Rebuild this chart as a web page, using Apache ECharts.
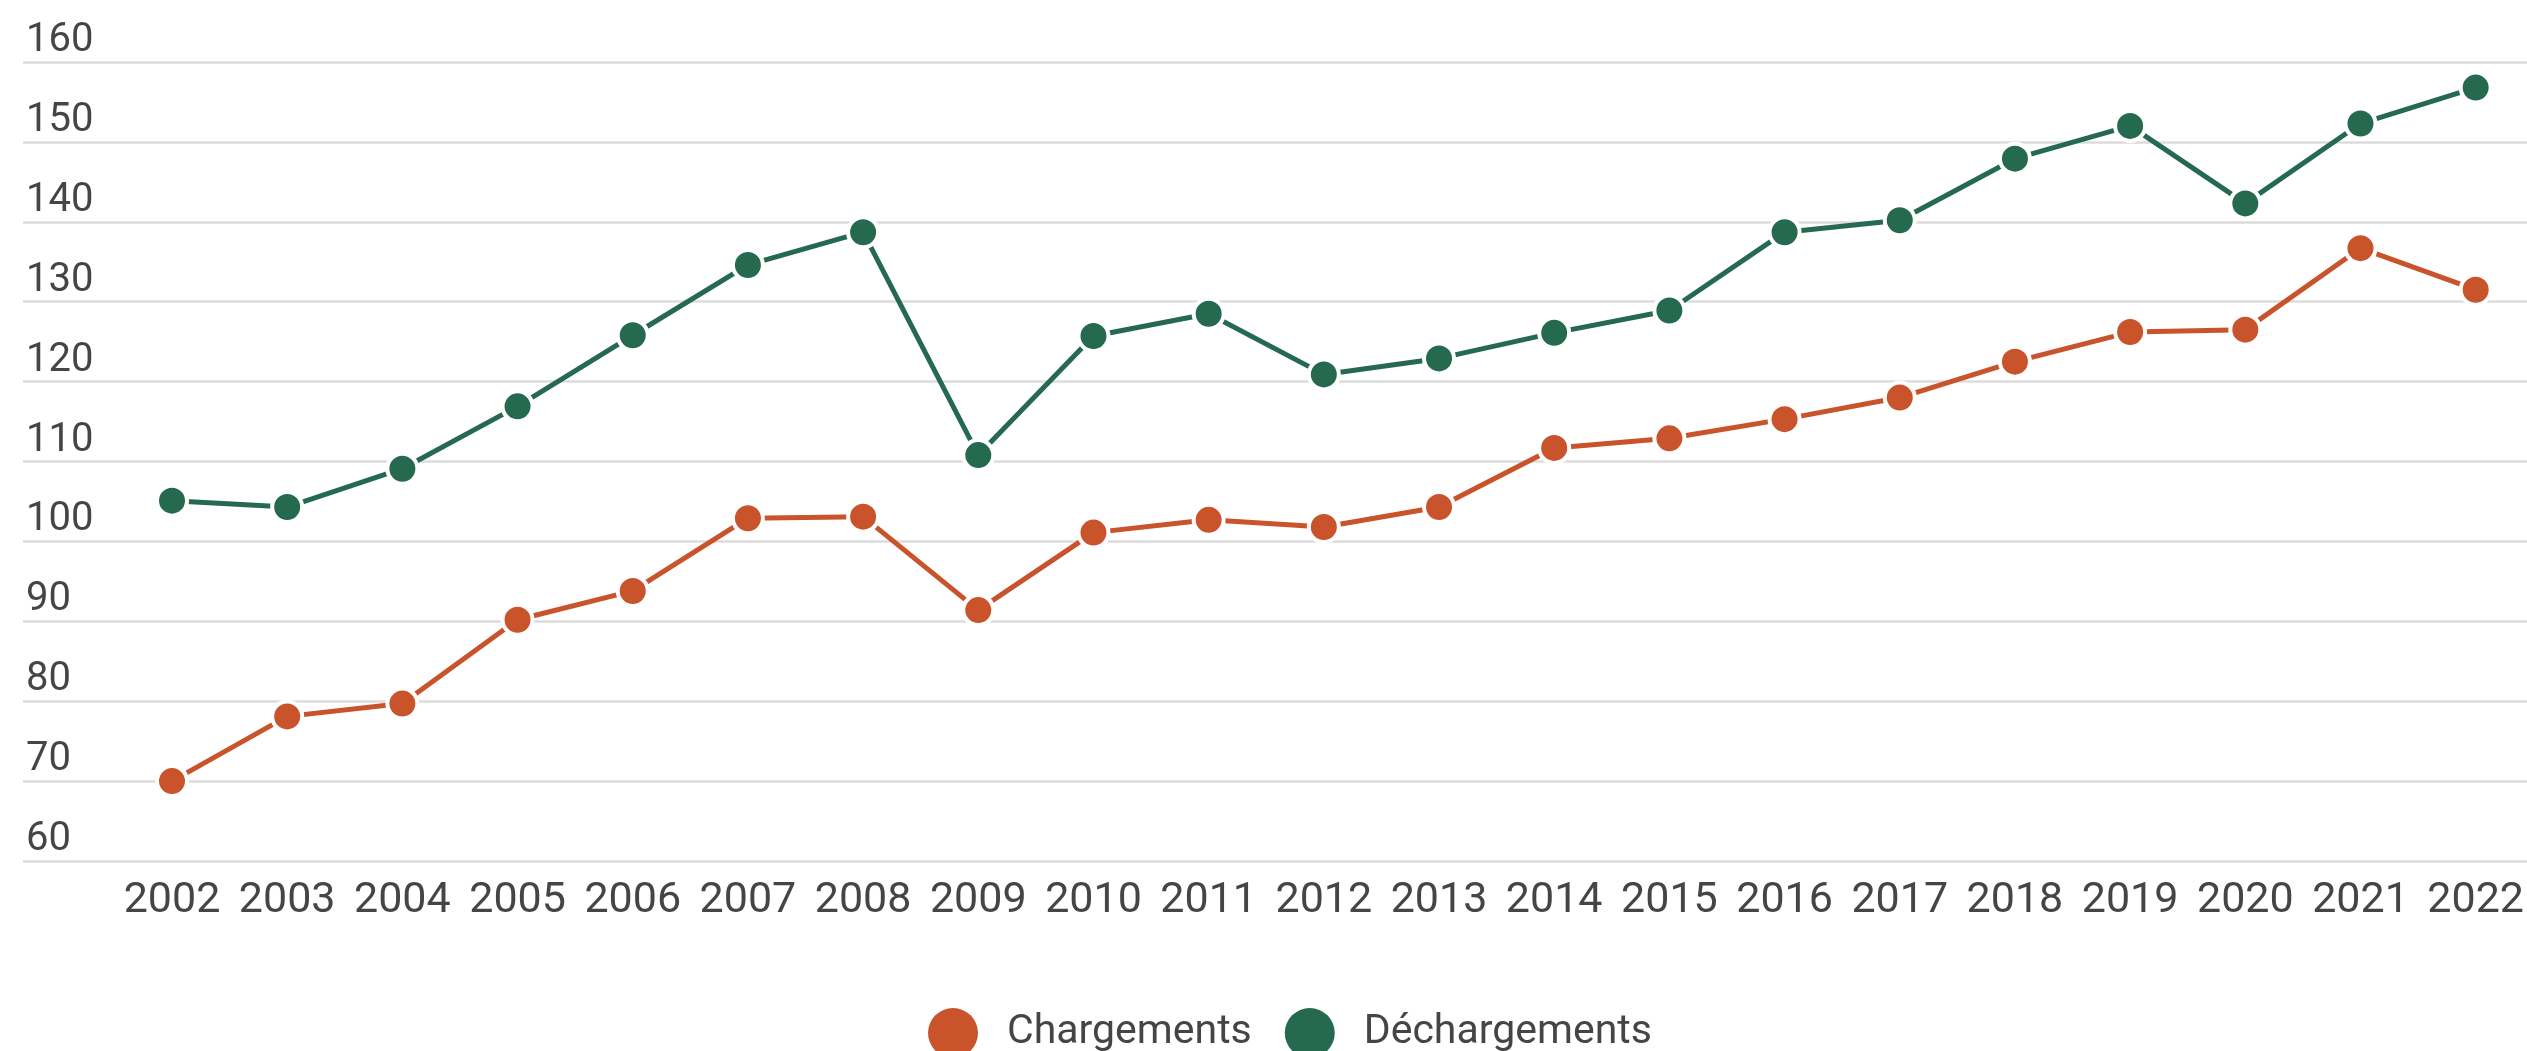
<!DOCTYPE html>
<html>
<head>
<meta charset="utf-8">
<title>Chargements et déchargements</title>
<script src="https://cdn.jsdelivr.net/npm/echarts@6/dist/echarts.min.js"></script>
<style>
  html, body { margin: 0; padding: 0; background: #ffffff; }
  #chart { width: 2527px; height: 1051px; }
</style>
</head>
<body>
<div id="chart"></div>
<script>
// Years on the horizontal axis
const years = ['2002','2003','2004','2005','2006','2007','2008','2009','2010','2011','2012',
               '2013','2014','2015','2016','2017','2018','2019','2020','2021','2022'];

// Chargements (loadings)
const chargements = [70.0, 78.1, 79.7, 90.2, 93.8, 102.9, 103.1, 91.4, 101.1, 102.7, 101.8,
                     104.3, 111.7, 112.9, 115.3, 118.0, 122.5, 126.2, 126.5, 136.7, 131.5];

// Déchargements (unloadings)
const dechargements = [105.1, 104.3, 109.1, 116.9, 125.8, 134.6, 138.7, 110.8, 125.7, 128.5, 120.9,
                       122.9, 126.1, 128.9, 138.7, 140.2, 147.9, 152.0, 142.3, 152.3, 156.8];

// Value axis bounds and step
const yMin = 60, yMax = 160, yStep = 10;

const ORANGE = '#c9532b';
const GREEN = '#256a4f';
const TEXT = '#454545';
const FONT = 'Roboto';

const chart = echarts.init(document.getElementById('chart'), null, { renderer: 'canvas' });

const lineSeries = (name, data, color) => ({
  name: name,
  type: 'line',
  xAxisIndex: 0,
  yAxisIndex: 0,
  data: data,
  symbol: 'circle',
  symbolSize: 30,
  showAllSymbol: true,
  lineStyle: { color: color, width: 5 },
  itemStyle: { color: color, borderColor: '#ffffff', borderWidth: 4 },
  z: 3,
  animation: false
});

chart.setOption({
  backgroundColor: '#ffffff',
  animation: false,
  grid: [
    // plot area for the two series
    { left: 172, right: 40, top: 62, bottom: 190 },
    // wider band carrying the horizontal gridlines and their labels
    { left: 23, right: 0, top: 62, bottom: 190 }
  ],
  xAxis: [
    {
      type: 'category',
      gridIndex: 0,
      data: years,
      boundaryGap: false,
      axisLine: { show: false },
      axisTick: { show: false },
      splitLine: { show: false },
      axisLabel: {
        interval: 0,
        margin: 19,
        fontFamily: FONT,
        fontSize: 43,
        color: TEXT
      }
    },
    {
      type: 'value',
      gridIndex: 1,
      show: false
    }
  ],
  yAxis: [
    {
      type: 'value',
      gridIndex: 0,
      min: yMin,
      max: yMax,
      interval: yStep,
      show: false,
      splitLine: { show: false }
    },
    {
      type: 'value',
      gridIndex: 1,
      min: yMin,
      max: yMax,
      interval: yStep,
      axisLine: { show: false },
      axisTick: { show: false },
      splitLine: { show: true, lineStyle: { color: '#dcdcdc', width: 2.5 } },
      axisLabel: {
        inside: true,
        margin: 3,
        align: 'left',
        verticalAlign: 'bottom',
        lineHeight: 40,
        padding: [0, 0, 1, 0],
        fontFamily: FONT,
        fontSize: 40,
        color: TEXT
      }
    }
  ],
  legend: {
    left: 923,
    top: 1003,
    itemWidth: 50,
    itemHeight: 50,
    itemGap: 33,
    icon: 'circle',
    textStyle: {
      fontFamily: FONT,
      fontSize: 41,
      color: TEXT,
      padding: [0, 0, 0, 24]
    },
    data: [
      { name: 'Chargements', itemStyle: { color: ORANGE, borderWidth: 0 } },
      { name: 'Déchargements', itemStyle: { color: GREEN, borderWidth: 0 } }
    ]
  },
  tooltip: { show: false },
  series: [
    lineSeries('Chargements', chargements, ORANGE),
    lineSeries('Déchargements', dechargements, GREEN)
  ]
});
</script>
</body>
</html>
